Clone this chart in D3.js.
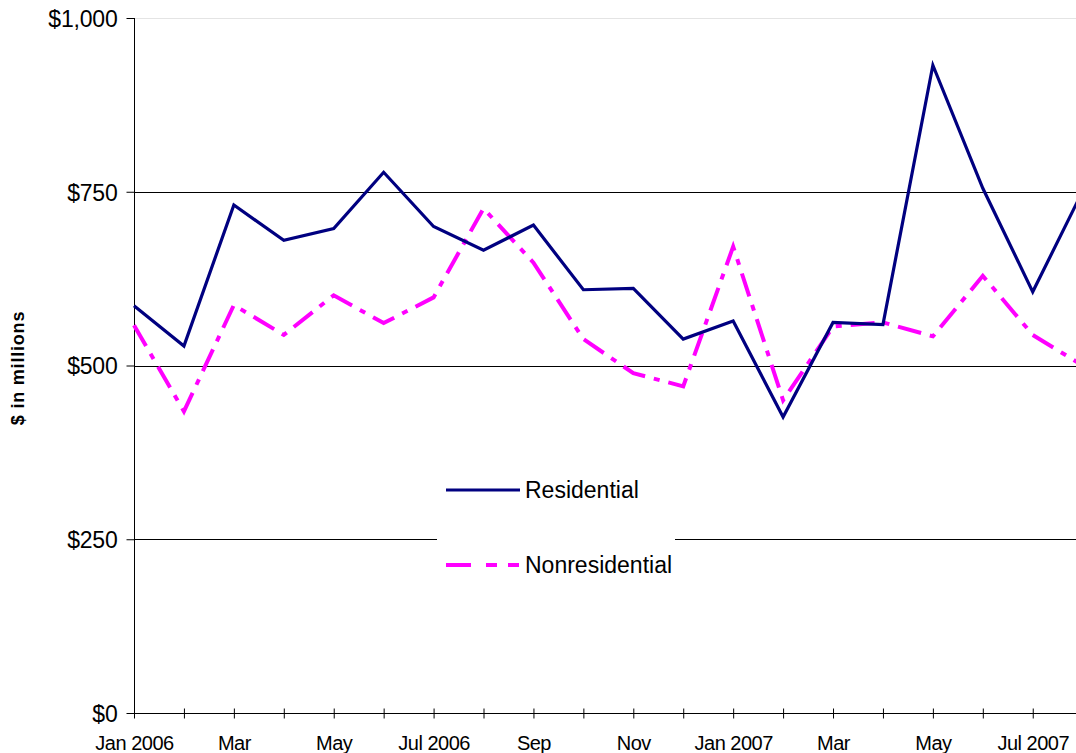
<!DOCTYPE html>
<html>
<head>
<meta charset="utf-8">
<script src="https://cdn.jsdelivr.net/npm/d3@7"></script>
<style>
  html, body { margin: 0; padding: 0; background: #fff; overflow: hidden; }
  text { font-family: "Liberation Sans", Arial, sans-serif; fill: #000; }
</style>
</head>
<body>
<svg id="chart" width="1076" height="753"></svg>
<script>
const months = ['2006-01', '2006-02', '2006-03', '2006-04', '2006-05', '2006-06', '2006-07', '2006-08', '2006-09', '2006-10',
  '2006-11', '2006-12', '2007-01', '2007-02', '2007-03', '2007-04', '2007-05', '2007-06', '2007-07', '2007-08'];
const residential = [586, 528, 731, 680, 697, 778, 700, 666, 702, 609, 611, 538, 564, 426, 562, 559, 932, 755, 606, 751];
const nonresidential = [558, 434, 587, 544, 601, 561, 598, 726, 648, 538, 489, 470, 671, 450, 556, 562, 542, 629, 544, 500];
const tickLabels = ['Jan 2006', '', 'Mar', '', 'May', '', 'Jul 2006', '', 'Sep', '', 'Nov', '', 'Jan 2007', '', 'Mar', '', 'May', '', 'Jul 2007', ''];
const yTicks = [0, 250, 500, 750, 1000];

const svg = d3.select('#chart');
const plotLeft = 134, plotTop = 18, plotBottom = 713, step = 49.93;

const x = d3.scalePoint().domain(months).range([plotLeft, plotLeft + step * (months.length - 1)]);
const y = d3.scaleLinear().domain([0, 1000]).range([plotBottom, plotTop]);

// gridlines
svg.append('g')
  .selectAll('line')
  .data(yTicks.filter(d => d > 0))
  .join('line')
  .attr('x1', plotLeft).attr('x2', 1076)
  .attr('y1', d => Math.round(y(d)) + 0.5).attr('y2', d => Math.round(y(d)) + 0.5)
  .attr('stroke', d => d === 1000 ? '#e4e4e4' : '#000')
  .attr('stroke-width', 1);

// y axis
const yAxis = svg.append('g')
  .attr('transform', `translate(${plotLeft + 0.5},0)`)
  .call(d3.axisLeft(y).tickValues(yTicks).tickSize(8).tickPadding(9).tickFormat(d => '$' + d3.format(',')(d)));
yAxis.select('.domain').attr('stroke', '#000').attr('d', `M0,${plotTop}V${plotBottom}`);
yAxis.selectAll('.tick line').attr('stroke', '#000');
yAxis.selectAll('.tick text').attr('font-size', 23).attr('letter-spacing', '-0.2px').attr('dy', '0.36em');

// x axis
const xAxis = svg.append('g')
  .attr('transform', `translate(0,${Math.round(plotBottom) + 0.5})`)
  .call(d3.axisBottom(x).tickSize(5).tickPadding(17).tickFormat((d, i) => tickLabels[i]));
xAxis.select('.domain').attr('stroke', '#000').attr('d', `M${plotLeft},0H1076`);
xAxis.selectAll('.tick line').attr('stroke', '#000').attr('y1', -5);
xAxis.selectAll('.tick text').attr('font-size', 20).attr('letter-spacing', '-0.5px');

// y title
svg.append('text')
  .attr('transform', 'translate(24,368) rotate(-90)')
  .attr('text-anchor', 'middle')
  .attr('font-size', 18)
  .attr('font-weight', 'bold')
  .attr('letter-spacing', '0.8px')
  .text('$ in millions');

const line = d3.line().x((d, i) => x(months[i])).y(d => y(d));

svg.append('path')
  .datum(nonresidential)
  .attr('d', line)
  .attr('fill', 'none')
  .attr('stroke', '#FF00FF')
  .attr('stroke-width', 4)
  .attr('stroke-dasharray', '24,9,6,9');

svg.append('path')
  .datum(residential)
  .attr('d', line)
  .attr('fill', 'none')
  .attr('stroke', '#000080')
  .attr('stroke-width', 3.2)
  .attr('stroke-linejoin', 'miter');

// legend
const legend = svg.append('g');
legend.append('rect').attr('x', 437).attr('y', 462).attr('width', 238).attr('height', 128).attr('fill', '#fff');
const items = [
  { name: 'Residential', color: '#000080', dash: null, width: 3.2, y: 490 },
  { name: 'Nonresidential', color: '#FF00FF', dash: '25,15,11,11,11', width: 4, y: 565 }
];
items.forEach(it => {
  legend.append('line')
    .attr('x1', 446).attr('x2', 520).attr('y1', it.y).attr('y2', it.y)
    .attr('stroke', it.color).attr('stroke-width', it.width)
    .attr('stroke-dasharray', it.dash);
  legend.append('text')
    .attr('x', 525).attr('y', it.y + 8)
    .attr('font-size', 23)
    .attr('letter-spacing', '0px')
    .text(it.name);
});
</script>
</body>
</html>
